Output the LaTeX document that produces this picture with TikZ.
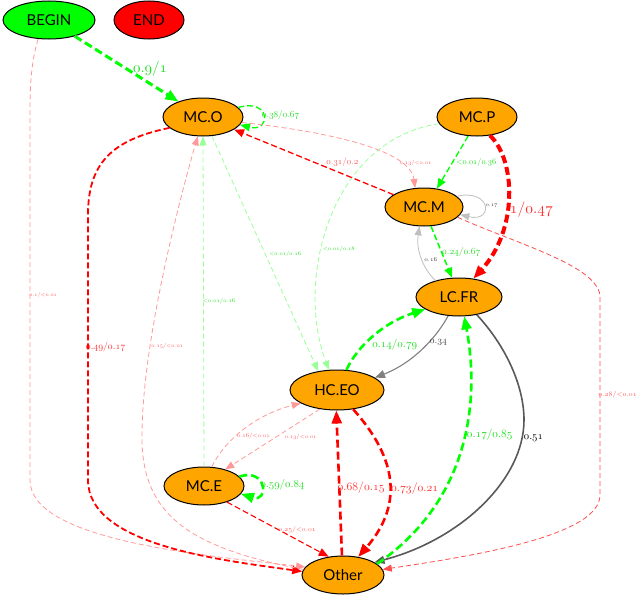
\documentclass[tikz,border=0pt]{standalone}
\usepackage[no-math]{fontspec}
\newfontfamily\statefont{Lato}
\DeclareFontShape{OML}{cmm}{m}{it}{<-7.5>cmmi7 <7.5->cmmi10}{}
\usetikzlibrary{shapes.geometric,arrows.meta}
\definecolor{stateorange}{RGB}{255,165,0}
% edge label: size, value
\newcommand{\pv}[2]{\fontsize{#1}{#1}\selectfont$\mathnormal{#2}$}

\tikzset{
    state/.style={ellipse, draw=black, line width=1pt, fill=stateorange,
        minimum width=80pt, minimum height=38pt, inner sep=0pt,
        font=\statefont\fontsize{15}{17}\selectfont},
    lbl/.style={inner sep=1pt},
    redlbl/.style={lbl, text=red!80},
    pinklbl/.style={lbl, text=red!65},
    greenlbl/.style={lbl, text=green!75!gray},
    thinedge/.style={line width=0.8pt, dash pattern=on 5pt off 3pt,
        -{Triangle[length=9pt,width=7pt]}},
    midedge/.style={line width=1.3pt, dash pattern=on 6pt off 3pt,
        -{Triangle[length=10pt,width=8pt]}},
    thickedge/.style={line width=2.6pt, dash pattern=on 8pt off 4pt,
        -{Triangle[length=13pt,width=10pt]}},
    solidedge/.style={solid, -{Triangle[length=10pt,width=8pt]}}
}

\begin{document}
\begin{tikzpicture}[x=1pt, y=-1pt]
    \useasboundingbox (0,0) rectangle (640,597);

    % states
    \node[state, fill=green, minimum width=92pt] (BEGIN) at (49,20) {BEGIN};
    \node[state, fill=red, minimum width=70pt] (END) at (149,20) {END};
    \node[state] (MCO) at (203,117) {MC.O};
    \node[state] (MCP) at (477,117) {MC.P};
    \node[state, minimum width=78pt] (MCM) at (424,207) {MC.M};
    \node[state, minimum width=86pt] (LCFR) at (459,297) {LC.FR};
    \node[state, minimum width=94pt, minimum height=40pt] (HCEO) at (337,390) {HC.EO};
    \node[state] (MCE) at (204,486) {MC.E};
    \node[state, minimum width=82pt] (Other) at (343,575) {Other};

    % from BEGIN
    \draw[green, thickedge, line width=3pt] (BEGIN) -- (MCO)
        node[greenlbl, midway, right, xshift=4pt] {\pv{15}{0.9/1}};
    \draw[red!40, thinedge] (BEGIN.-120) .. controls (32,60) and (30,80) .. (30,110)
        -- (30,480) node[pinklbl, midway, anchor=west, inner sep=0pt, xshift=-1pt] {\pv{5.4}{0.1/{<}0.01}}
        .. controls (30,540) and (200,555) .. (Other.168);

    % from MC.O
    \draw[green, midedge] (MCO.15) .. controls +(32,-10) and +(32,8) .. (MCO.-12)
        node[greenlbl, pos=0.5, anchor=west, inner sep=0pt, xshift=-2pt] {\pv{9.2}{0.38/0.67}};
    \draw[red!40, thinedge] (MCO.-8) .. controls (330,132) and (410,150) .. (MCM.115)
        node[pinklbl, pos=0.75, right] {\pv{5.6}{0.13/{<}0.01}};
    \draw[green!40, thinedge] (MCO.-65) -- (HCEO.135)
        node[greenlbl, midway, right, xshift=3pt] {\pv{5.6}{{<}0.01/0.16}};
    \draw[red, midedge, line width=1.8pt] (MCO.198) .. controls (110,140) and (88,165) .. (88,215)
        -- (88,480) node[redlbl, midway, anchor=west, inner sep=0pt, xshift=-3pt] {\pv{9.7}{0.49/0.17}}
        .. controls (88,545) and (220,560) .. (Other.175);

    % from MC.P
    \draw[green, midedge] (MCP.-115) -- (MCM.55)
        node[greenlbl, midway, right, xshift=2pt] {\pv{8.3}{{<}0.01/0.36}};
    \draw[red, thickedge, line width=4pt] (MCP.-55) .. controls (516,160) and (518,230) .. (LCFR.52)
        node[redlbl, pos=0.57, anchor=west] {\pv{15.5}{1/0.47}};
    \draw[green!40, thinedge] (MCP.190) .. controls (330,140) and (295,280) .. (HCEO.112)
        node[greenlbl, pos=0.6, right] {\pv{5.6}{{<}0.01/0.18}};

    % from MC.M
    \draw[red, midedge] (MCM.158) -- (MCO.-22)
        node[pinklbl, pos=0.32, above=5pt] {\pv{9}{0.31/0.2}};
    \draw[gray!50, thinedge, solid] (MCM.18) .. controls +(34,-8) and +(34,8) .. (MCM.-12)
        node[lbl, text=black!80, pos=0.5, right] {\pv{5.7}{0.17}};
    \draw[green, midedge, line width=1.5pt] (MCM.-70) -- (LCFR.110)
        node[greenlbl, midway, right, inner sep=0pt] {\pv{9.4}{0.24/0.67}};
    \draw[red!70, thinedge] (MCM.-17) .. controls (520,245) and (595,265) .. (600,295)
        -- (600,495) node[pinklbl, midway, anchor=west, inner sep=0pt, xshift=-2pt] {\pv{6.8}{0.28/{<}0.01}}
        .. controls (600,535) and (480,555) .. (Other.8);

    % from LC.FR
    \draw[gray!50, thinedge, solid] (LCFR.145) .. controls (422,268) and (416,248) .. (MCM.-103)
        node[lbl, text=black!80, pos=0.45, anchor=west, inner sep=0pt, xshift=2pt] {\pv{6.1}{0.16}};
    \draw[gray, solidedge, line width=1.1pt] (LCFR.-120) .. controls (438,335) and (415,362) .. (HCEO.18)
        node[lbl, text=black!75, pos=0.42, right] {\pv{9.6}{0.34}};
    \draw[gray!70!black, solidedge, line width=1.6pt] (LCFR.-45) .. controls (505,345) and (524,385) .. (524,420)
        .. controls (524,480) and (460,540) .. (Other.22)
        node[lbl, text=black, pos=0.1, right] {\pv{10.7}{0.51}};

    % from HC.EO
    \draw[green, thickedge] (HCEO.65) .. controls (358,345) and (385,322) .. (LCFR.200)
        node[greenlbl, pos=0.35, right, xshift=6pt] {\pv{11}{0.14/0.79}};
    \draw[red!40, thinedge] (HCEO.-132) -- (MCE.38)
        node[pinklbl, pos=0.47, right, xshift=8pt] {\pv{5.6}{0.13/{<}0.01}};
    \draw[red, thickedge] (HCEO.-50) .. controls (385,445) and (412,495) .. (Other.50)
        node[redlbl, pos=0.6, right] {\pv{11.6}{0.73/0.21}};

    % from MC.E
    \draw[green!40, thinedge] (MCE.north) -- (MCO.south)
        node[greenlbl, midway, anchor=west, inner sep=0pt, xshift=-1pt] {\pv{5.7}{{<}0.01/0.16}};
    \draw[red!40, thinedge] (MCE.68) .. controls (225,440) and (255,415) .. (HCEO.-160)
        node[pinklbl, pos=0.4, right] {\pv{5.8}{0.16/{<}0.01}};
    \draw[green, thickedge] (MCE.15) .. controls +(28,-9) and +(28,9) .. (MCE.-12)
        node[greenlbl, pos=0.5, anchor=west, inner sep=0pt, xshift=-2pt] {\pv{10.8}{0.59/0.84}};
    \draw[red, midedge, line width=1.1pt] (MCE.-35) -- (Other.128)
        node[pinklbl, midway, anchor=west, inner sep=0pt] {\pv{6.6}{0.25/{<}0.01}};

    % from Other
    \draw[red!40, thinedge] (Other.172) .. controls (190,548) and (143,515) .. (142,440)
        .. controls (141,340) and (185,180) .. (MCO.-105)
        node[pinklbl, pos=0.28, right] {\pv{5.6}{0.15/{<}0.01}};
    \draw[green, thickedge] (Other.18) .. controls (470,500) and (480,400) .. (LCFR.-75)
        node[greenlbl, pos=0.55, right] {\pv{11.2}{0.17/0.85}};
    \draw[red, thickedge] (Other.93) -- (HCEO.-92)
        node[redlbl, pos=0.47, anchor=west, inner sep=0pt, xshift=-3pt] {\pv{11.6}{0.68/0.15}};

\end{tikzpicture}
\end{document}
